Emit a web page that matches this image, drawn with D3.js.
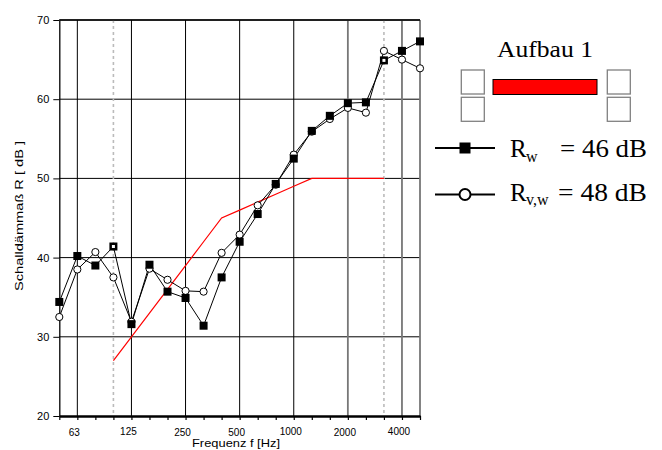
<!DOCTYPE html>
<html><head><meta charset="utf-8">
<script src="https://cdn.jsdelivr.net/npm/d3@7"></script>
<style>body{margin:0;background:#fff} svg{display:block}</style>
</head><body>
<svg id="c" width="662" height="450"></svg>
<script>
const bands = ["50","63","80","100","125","160","200","250","315","400","500","630","800","1000","1250","1600","2000","2500","3150","4000","5000"];
const rw  = [34.4,40.2,39.0,41.4,31.6,39.1,35.7,34.9,31.4,37.5,42.0,45.5,49.3,52.5,56.0,57.9,59.5,59.6,64.9,66.1,67.3];
const rvw = [32.5,38.5,40.7,37.5,31.9,38.6,37.2,35.8,35.7,40.6,42.9,46.6,49.2,53.0,55.9,57.5,58.9,58.3,66.1,65.0,63.9];
const refBands  = ["100","125","160","200","250","315","400","500","630","800","1000","1250","1600","2000","2500","3150"];
const refValues = [27,30,33,36,39,42,45,46,47,48,49,50,50,50,50,50];
const xTickLabels = ["63","125","250","500","1000","2000","4000"];
const yTicks = [20,30,40,50,60,70];
const solidGrid = ["63","125","250","500","1000"];
const greyGrid = ["2000","4000","5000"];
const dottedGrid = ["100","3150"];
const legendTitle = "Aufbau 1";
const legendRw = "= 46 dB";
const legendRvw = "= 48 dB";

const svg = d3.select("#c");
const L = 59.3, R = 420, T = 20, B = 416;
const x = d3.scalePoint().domain(bands).range([L, R]).padding(0);
const y = d3.scaleLinear().domain([20, 70]).range([B, T]);

// horizontal grid
svg.append("g").selectAll("line").data(yTicks.filter(v => v > 20)).join("line")
  .attr("x1", L).attr("x2", R).attr("y1", d => y(d)).attr("y2", d => y(d))
  .attr("stroke", "#000").attr("stroke-width", 1);

// vertical grid
svg.append("g").selectAll("line").data(solidGrid).join("line")
  .attr("x1", d => x(d)).attr("x2", d => x(d)).attr("y1", T).attr("y2", B)
  .attr("stroke", "#000").attr("stroke-width", 1);
svg.append("g").selectAll("line").data(greyGrid).join("line")
  .attr("x1", d => x(d)).attr("x2", d => x(d)).attr("y1", T).attr("y2", B)
  .attr("stroke", "#777").attr("stroke-width", 1.8);
svg.append("g").selectAll("line").data(dottedGrid).join("line")
  .attr("x1", d => x(d)).attr("x2", d => x(d)).attr("y1", T).attr("y2", B)
  .attr("stroke", "#bbb").attr("stroke-width", 1.6).attr("stroke-dasharray", "3,3");

// left axis
const yAxis = d3.axisLeft(y).tickValues(yTicks).tickSize(6).tickPadding(4).tickSizeOuter(0);
const ya = svg.append("g").attr("transform", `translate(${L},0)`).call(yAxis);
ya.select(".domain").attr("stroke", "#000").attr("stroke-width", 1.3);
ya.selectAll(".tick line").attr("stroke", "#000");
ya.selectAll("text").attr("font-family", "Liberation Sans, Arial, sans-serif").attr("font-size", 11).attr("fill", "#000");

// bottom axis
const xAxis = d3.axisBottom(x).tickSize(4).tickSizeOuter(0).tickFormat(() => "");
const xa = svg.append("g").attr("transform", `translate(0,${B})`).call(xAxis);
xa.select(".domain").attr("stroke", "#000").attr("stroke-width", 2.6);
xa.selectAll(".tick line").attr("stroke", "#000").attr("stroke-width", 1.2);
svg.append("g").selectAll("text").data(xTickLabels).join("text")
  .attr("x", d => x(d) - 3)
  .attr("y", d => ["125", "1000", "4000"].includes(d) ? 435 : 436)
  .attr("text-anchor", "middle")
  .attr("font-family", "Liberation Sans, Arial, sans-serif").attr("font-size", 10)
  .text(d => d);

svg.append("text").attr("x", 236).attr("y", 447).attr("text-anchor", "middle")
  .attr("font-family", "Liberation Sans, Arial, sans-serif").attr("font-size", 11)
  .attr("textLength", 88).attr("lengthAdjust", "spacingAndGlyphs")
  .text("Frequenz f [Hz]");
svg.append("text").attr("transform", "translate(23,216) rotate(-90)").attr("text-anchor", "middle")
  .attr("font-family", "Liberation Sans, Arial, sans-serif").attr("font-size", 11)
  .attr("textLength", 150).attr("lengthAdjust", "spacingAndGlyphs")
  .text("Schalldämmaß R [ dB ]");

// reference curve
svg.append("path").datum(refBands.map((b, i) => [b, refValues[i]]))
  .attr("fill", "none").attr("stroke", "#ff0000").attr("stroke-width", 1.2)
  .attr("d", d3.line().x(d => x(d[0])).y(d => y(d[1])));

// measured series
const line = d3.line().x(d => x(d[0])).y(d => y(d[1]));
const cData = bands.map((b, i) => [b, rvw[i]]);
const sData = bands.map((b, i) => [b, rw[i]]);
svg.append("path").datum(cData).attr("fill", "none").attr("stroke", "#000").attr("stroke-width", 1).attr("d", line);
svg.append("path").datum(sData).attr("fill", "none").attr("stroke", "#000").attr("stroke-width", 1).attr("d", line);
svg.append("g").selectAll("circle").data(cData).join("circle")
  .attr("cx", d => x(d[0])).attr("cy", d => y(d[1])).attr("r", 3.6)
  .attr("fill", "#fff").attr("stroke", "#000").attr("stroke-width", 1);
svg.append("g").selectAll("rect").data(sData).join("rect")
  .attr("x", d => x(d[0]) - 4).attr("y", d => y(d[1]) - 4).attr("width", 8).attr("height", 8)
  .attr("fill", "#000");
svg.append("g").selectAll("rect").data(sData.filter(d => dottedGrid.includes(d[0]))).join("rect")
  .attr("x", d => x(d[0]) - 1.5).attr("y", d => y(d[1]) - 1.5).attr("width", 3).attr("height", 3)
  .attr("fill", "#fff");

// top border
svg.append("line").attr("x1", L).attr("x2", R).attr("y1", T).attr("y2", T).attr("stroke", "#000").attr("stroke-width", 1.3);

// legend
const serif = "Liberation Serif, Times New Roman, serif";
svg.append("text").attr("x", 497).attr("y", 57).attr("font-family", serif).attr("font-size", 23)
  .attr("textLength", 96).attr("lengthAdjust", "spacingAndGlyphs").text(legendTitle);
const boxes = [[461.3, 70], [461.3, 97.3], [607.3, 70], [607.3, 97.3]];
svg.append("g").selectAll("rect").data(boxes).join("rect")
  .attr("x", d => d[0]).attr("y", d => d[1]).attr("width", 23).attr("height", 24)
  .attr("fill", "#fff").attr("stroke", "#808080").attr("stroke-width", 1.3);
svg.append("rect").attr("x", 493).attr("y", 79.5).attr("width", 104).attr("height", 15)
  .attr("fill", "#ff0000").attr("stroke", "#000").attr("stroke-width", 1);

svg.append("line").attr("x1", 435).attr("x2", 495).attr("y1", 148).attr("y2", 148).attr("stroke", "#000").attr("stroke-width", 2);
svg.append("rect").attr("x", 459.5).attr("y", 142.5).attr("width", 11).attr("height", 11).attr("fill", "#000");
svg.append("line").attr("x1", 435).attr("x2", 495).attr("y1", 194.5).attr("y2", 194.5).attr("stroke", "#000").attr("stroke-width", 2);
svg.append("circle").attr("cx", 465).attr("cy", 194.5).attr("r", 5.5).attr("fill", "#fff").attr("stroke", "#000").attr("stroke-width", 2);

const t1 = svg.append("text").attr("font-family", serif).attr("font-size", 25);
t1.append("tspan").attr("x", 510).attr("y", 157).text("R");
t1.append("tspan").attr("x", 526).attr("y", 162).attr("font-size", 16).text("w");
t1.append("tspan").attr("x", 560).attr("y", 157).attr("textLength", 87).attr("lengthAdjust", "spacingAndGlyphs").text(legendRw);
const t2 = svg.append("text").attr("font-family", serif).attr("font-size", 25);
t2.append("tspan").attr("x", 510).attr("y", 200.5).text("R");
t2.append("tspan").attr("x", 526).attr("y", 205).attr("font-size", 16).text("v,w");
t2.append("tspan").attr("x", 558).attr("y", 200.5).attr("textLength", 89).attr("lengthAdjust", "spacingAndGlyphs").text(legendRvw);
</script>
</body></html>
